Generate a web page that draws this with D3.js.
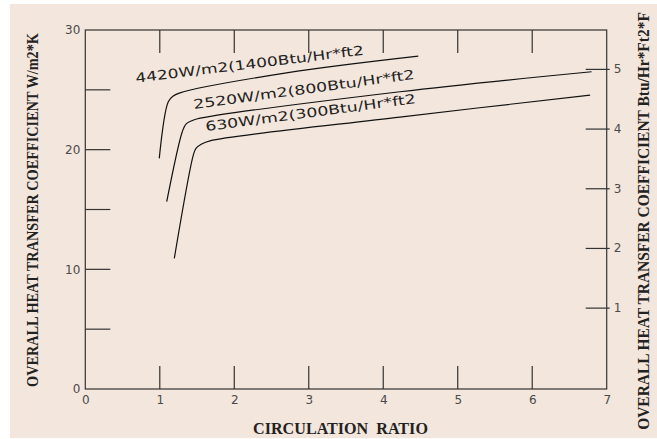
<!DOCTYPE html>
<html lang="en">
<head>
<meta charset="UTF-8">
<script src="https://d3js.org/d3.v7.min.js"></script>
<title>Heat transfer coefficient</title>
<style>
    body { margin: 0; background: #ffffff; }
    svg { display: block; }
    .tick-label { font-family: "DejaVu Sans", sans-serif; font-size: 12px; fill: #4a4a4a; }
    .title { font-family: "Liberation Serif", serif; font-weight: bold; fill: #222; }
    .curve-label { font-family: "DejaVu Sans", sans-serif; font-size: 13px; fill: #222; }
</style>
</head>
<body>
<svg></svg>
<script>
// ---- data ----
const xTicks = [0, 1, 2, 3, 4, 5, 6, 7];
const yTicksMajor = [0, 10, 20, 30];
const yTicksMinor = [5, 10, 15, 20, 25];
const rightTicks = [1, 2, 3, 4, 5];

const series4420 = [[0.993, 19.27], [1.114, 24.0], [1.181, 24.48], [1.271, 24.75], [2.70, 26.42], [4.47, 27.82]];
const series2520 = [[1.093, 15.65], [1.302, 21.5], [1.352, 22.14], [1.428, 22.41], [1.495, 22.56], [4.224, 24.84], [6.797, 26.51]];
const series630 = [[1.195, 10.92], [1.45, 19.55], [1.486, 20.11], [1.562, 20.47], [1.674, 20.74], [4.224, 22.72], [6.777, 24.56]];

const curveNames = ["4420W/m2(1400Btu/Hr*ft2", "2520W/m2(800Btu/Hr*ft2", "630W/m2(300Btu/Hr*ft2"];
// label anchor (data units) and angle for each curve name
const labelPos = [[0.68, 25.6], [1.46, 23.4], [1.62, 21.55]];
const labelAngle = [-7.0, -7.8, -7.6];
const labelLen = [230, 223, 212];

const w = 657, h = 439;
const svg = d3.select("svg").attr("width", w).attr("height", h);

svg.append("rect")
   .attr("x", 10).attr("y", 4)
   .attr("width", w - 10).attr("height", h - 5)
   .attr("fill", "#f3e6dc");

const x = d3.scaleLinear().domain([0, 7]).range([85.3, 606.7]);
const y = d3.scaleLinear().domain([0, 30]).range([389, 30]);
const yRight = d3.scaleLinear().domain([1, 5]).range([y(6.8), y(26.75)]);

const axisColor = "#333";

// frame
svg.append("rect")
   .attr("x", x(0)).attr("y", y(30))
   .attr("width", x(7) - x(0)).attr("height", y(0) - y(30))
   .attr("fill", "none").attr("stroke", axisColor).attr("stroke-width", 1.2);

// bottom axis (ticks inward)
const xAxis = svg.append("g")
   .attr("transform", "translate(0," + y(0) + ")")
   .call(d3.axisBottom(x).tickValues(xTicks).tickSize(0).tickPadding(6).tickFormat(d3.format("d")));
xAxis.select(".domain").remove();
xAxis.selectAll("text").attr("class", "tick-label").attr("font-family", null).attr("font-size", null).attr("fill", null);

svg.selectAll(".xt-bottom")
   .data(xTicks.slice(1, -1))
   .enter().append("line")
   .attr("x1", d => x(d)).attr("x2", d => x(d))
   .attr("y1", y(0)).attr("y2", y(0) - 23)
   .attr("stroke", axisColor).attr("stroke-width", 1.2);

svg.selectAll(".xt-top")
   .data(xTicks.slice(1, -1))
   .enter().append("line")
   .attr("x1", d => x(d)).attr("x2", d => x(d))
   .attr("y1", y(30)).attr("y2", y(30) + 23)
   .attr("stroke", axisColor).attr("stroke-width", 1.2);

// left axis
const yAxis = svg.append("g")
   .attr("transform", "translate(" + x(0) + ",0)")
   .call(d3.axisLeft(y).tickValues(yTicksMajor).tickSize(0).tickPadding(5).tickFormat(d3.format("d")));
yAxis.select(".domain").remove();
yAxis.selectAll("text").attr("class", "tick-label").attr("font-family", null).attr("font-size", null).attr("fill", null);

svg.selectAll(".yt")
   .data(yTicksMinor)
   .enter().append("line")
   .attr("x1", x(0)).attr("x2", x(0) + 25)
   .attr("y1", d => y(d)).attr("y2", d => y(d))
   .attr("stroke", axisColor).attr("stroke-width", 1.2);

// right axis
const rAxis = svg.append("g")
   .attr("transform", "translate(" + x(7) + ",0)")
   .call(d3.axisRight(yRight).tickValues(rightTicks).tickSizeInner(3).tickSizeOuter(0).tickPadding(4).tickFormat(d3.format("d")));
rAxis.select(".domain").remove();
rAxis.selectAll("line").attr("x1", -21).attr("stroke", axisColor).attr("stroke-width", 1.2);
rAxis.selectAll("text").attr("class", "tick-label").attr("font-family", null).attr("font-size", null).attr("fill", null);

// curves
const line = d3.line()
   .x(d => x(d[0]))
   .y(d => y(d[1]))
   .curve(d3.curveCatmullRom.alpha(0.5));

[series4420, series2520, series630].forEach(s => {
    svg.append("path")
       .datum(s)
       .attr("d", line)
       .attr("fill", "none")
       .attr("stroke", "#111")
       .attr("stroke-width", 1.2);
});

curveNames.forEach((name, i) => {
    const px = x(labelPos[i][0]), py = y(labelPos[i][1]);
    svg.append("text")
       .attr("class", "curve-label")
       .attr("transform", "translate(" + px + "," + py + ") rotate(" + labelAngle[i] + ")")
       .attr("textLength", labelLen[i])
       .attr("lengthAdjust", "spacingAndGlyphs")
       .text(name);
});

// axis titles, squeezed horizontally to the width they have in the reference
function title(txt, size, cx, cy, rot, width) {
    const t = svg.append("text")
       .attr("class", "title")
       .attr("text-anchor", "middle")
       .style("font-size", size + "px")
       .style("white-space", "pre")
       .text(txt);
    const sx = width / t.node().getComputedTextLength();
    t.attr("transform", "translate(" + cx + "," + cy + ") rotate(" + rot + ") scale(" + sx + ",1)");
}

title("CIRCULATION  RATIO", 16, 340.5, 434, 0, 175);
title("OVERALL HEAT TRANSFER COEFFICIENT W/m2*K", 16, 37.5, 210, -90, 354);
title("OVERALL HEAT TRANSFER COEFFICIENT Btu/Hr*Ft2*F", 17, 648.5, 221, -90, 418);
</script>
</body>
</html>
